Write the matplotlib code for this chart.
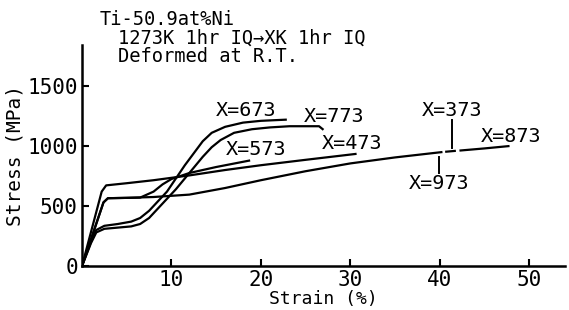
import matplotlib
matplotlib.use("Agg")
import matplotlib.pyplot as plt

# ---- data (strain %, stress MPa) ----
strain_673 = [0, 1.0, 1.6, 2.5, 4, 5.5, 6.5, 7.5, 8.5, 9.5, 10.5, 11.5, 12.5, 13.5, 14.5, 16, 18, 20, 22.9]
stress_673 = [0, 200, 300, 335, 350, 370, 400, 460, 540, 620, 730, 840, 940, 1040, 1110, 1160, 1195, 1210, 1220]

strain_773 = [0, 1.0, 1.6, 2.5, 4, 5.5, 6.5, 7.5, 8.5, 9.5, 10.5, 11.5, 12.5, 13.5, 14.5, 15.5, 17, 19, 21, 23.2, 26.5, 27]
stress_773 = [0, 190, 280, 310, 320, 330, 350, 400, 480, 560, 640, 730, 820, 910, 990, 1050, 1110, 1140, 1155, 1165, 1165, 1135]

strain_473 = [0, 2.2, 2.7, 5, 8, 12, 16, 20, 25, 30.7]
stress_473 = [0, 620, 672, 690, 715, 755, 800, 840, 885, 935]

strain_573 = [0, 2.4, 2.9, 6.5, 8, 9, 10, 12, 15, 18.8]
stress_573 = [0, 530, 565, 570, 620, 680, 725, 775, 825, 880]

strain_973 = [0, 2.4, 2.9, 5, 8, 12, 16, 20, 25, 30, 35, 40.3]
stress_973 = [0, 530, 565, 568, 575, 595, 650, 715, 790, 855, 905, 950]

strain_373 = [40.6, 41.8]
stress_373 = [952, 960]

strain_873 = [42.2, 45, 47.8]
stress_873 = [962, 980, 1000]

x_ticks = [10, 20, 30, 40, 50]
y_ticks = [0, 500, 1000, 1500]

FONT = "DejaVu Sans Mono"
plt.rcParams["font.family"] = [FONT, "DejaVu Sans"]

# ---- figure ----
W, H = 569, 310
fig = plt.figure(figsize=(W / 100, H / 100), dpi=100)
ax = fig.add_axes([82 / W, 44 / H, 483 / W, 221 / H])
ax.set_xlim(0, 54)
ax.set_ylim(0, 1842)

lw = 1.6
for xs, ys in [(strain_673, stress_673), (strain_773, stress_773),
               (strain_473, stress_473), (strain_573, stress_573),
               (strain_973, stress_973), (strain_373, stress_373),
               (strain_873, stress_873)]:
    ax.plot(xs, ys, color="black", lw=lw, solid_capstyle="butt")

for s in ["top", "right"]:
    ax.spines[s].set_visible(False)
for s in ["left", "bottom"]:
    ax.spines[s].set_linewidth(1.8)

ax.set_xticks(x_ticks)
ax.set_yticks(y_ticks)
ax.tick_params(direction="in", length=5, width=1.5, labelsize=15, pad=3)
ax.set_xlabel("Strain (%)", fontsize=13, labelpad=0)
ax.set_ylabel("Stress (MPa)", fontsize=14, labelpad=2)

fs = 14.5
ax.text(15.0, 1300, "X=673", fontsize=fs, va="center", ha="left")
ax.text(24.8, 1242, "X=773", fontsize=fs, va="center", ha="left")
ax.text(16.1, 975, "X=573", fontsize=fs, va="center", ha="left")
ax.text(26.8, 1025, "X=473", fontsize=fs, va="center", ha="left")
ax.text(41.4, 1300, "X=373", fontsize=fs, va="center", ha="center")
ax.text(44.6, 1083, "X=873", fontsize=fs, va="center", ha="left")
ax.text(39.9, 690, "X=973", fontsize=fs, va="center", ha="center")
ax.plot([41.4, 41.4], [983, 1217], color="black", lw=1.4)
ax.plot([39.9, 39.9], [772, 911], color="black", lw=1.4)

fig.text(100 / W, 1 - 19.5 / H, "Ti-50.9at%Ni", fontsize=13.5, va="center", ha="left")
fig.text(118 / W, 1 - 38 / H, "1273K 1hr IQ\u2192XK 1hr IQ", fontsize=13.5, va="center", ha="left")
fig.text(118 / W, 1 - 57 / H, "Deformed at R.T.", fontsize=13.5, va="center", ha="left")

fig.savefig("out.png", dpi=100)
